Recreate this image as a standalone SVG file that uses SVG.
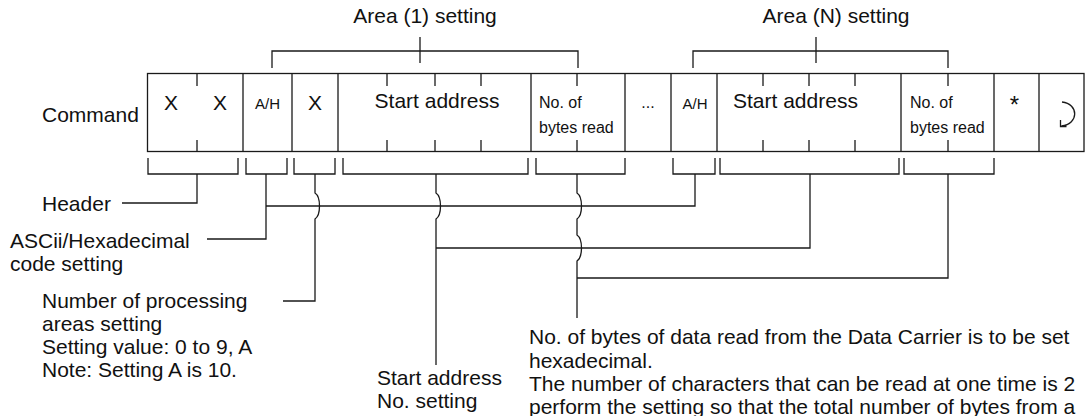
<svg xmlns="http://www.w3.org/2000/svg" width="1085" height="416" viewBox="0 0 1085 416">
<style>
  text { font-family: "Liberation Sans", Arial, Helvetica, sans-serif; fill: #111; }
  .big { font-size: 21px; }
  .mid { font-size: 16px; }
  .sm { font-size: 15px; }
  .c { text-anchor: middle; }
  .ln { fill: none; stroke: #1a1a1a; stroke-width: 1.3; }
</style>
<rect width="1085" height="416" fill="#fff"/>

<g id="area1-label">
  <text class="big c" x="425" y="23">Area (1) setting</text>
  <path class="ln" d="M272,68 V51 H578 V68 M420,37 V63"/>
</g>
<g id="areaN-label">
  <text class="big c" x="836" y="23">Area (N) setting</text>
  <path class="ln" d="M693,68 V51 H948 V68 M816,37 V63"/>
</g>

<g id="command-label">
  <text class="big" x="42" y="122">Command</text>
</g>

<g id="frame">
  <rect class="ln" x="147.5" y="73.5" width="936.5" height="78"/>
  <path class="ln" d="M243,73.5 V151.5 M292,73.5 V151.5 M338,73.5 V151.5 M531,73.5 V151.5 M625,73.5 V151.5 M671,73.5 V151.5 M717,73.5 V151.5 M901,73.5 V151.5 M994,73.5 V151.5 M1039,73.5 V151.5"/>
  <path class="ln" d="M197,73.5 V86 M197,140 V151.5 M387,73.5 V86 M387,140 V151.5 M435,73.5 V86 M435,140 V151.5 M481,73.5 V86 M481,140 V151.5 M577,73.5 V86 M577,140 V151.5 M763,73.5 V86 M763,140 V151.5 M809,73.5 V86 M809,140 V151.5 M855,73.5 V86 M855,140 V151.5 M948,73.5 V86 M948,140 V151.5"/>
</g>

<g id="cell-header">
  <text class="big c" x="171" y="110">X</text>
  <text class="big c" x="220" y="110">X</text>
</g>
<g id="cell-ah1"><text class="sm c" x="267.5" y="109">A/H</text></g>
<g id="cell-x"><text class="big c" x="315" y="110">X</text></g>
<g id="cell-start1"><text class="big c" x="437" y="108">Start address</text></g>
<g id="cell-bytes1">
  <text class="mid" x="539" y="108">No. of</text>
  <text class="mid" x="539" y="133">bytes read</text>
</g>
<g id="cell-dots"><text class="mid c" x="648" y="108">...</text></g>
<g id="cell-ahN"><text class="sm c" x="695" y="109">A/H</text></g>
<g id="cell-startN"><text class="big" x="733" y="108">Start address</text></g>
<g id="cell-bytesN">
  <text class="mid" x="910" y="108">No. of</text>
  <text class="mid" x="910" y="133">bytes read</text>
</g>
<g id="cell-star"><text class="c" x="1014.5" y="113" style="font-size:24px">*</text></g>
<g id="cell-cr">
  <path class="ln" d="M1062,102 C1079,104 1079,124 1061.5,126 M1060.5,120 L1060.5,126.5 L1066.5,126.5"/>
</g>

<g id="brackets">
  <path class="ln" d="M148,158 V174 H238 V158 M246,158 V174 H287 V158 M294,158 V174 H335 V158 M343,158 V174 H528 V158 M536,158 V174 H625 V158 M673,158 V174 H715 V158 M720,158 V174 H899 V158 M904,158 V174 H994 V158"/>
</g>

<g id="connectors">
  <path class="ln" d="M197,174 V203 H122"/>
  <path class="ln" d="M266,174 V239 H207"/>
  <path class="ln" d="M266,206 H695 V174"/>
  <path class="ln" d="M315,174 V193 C321,197 321,215 315,219 V301 H283"/>
  <path class="ln" d="M436,174 V193 C442,197 442,215 436,219 V365"/>
  <path class="ln" d="M436,248 H810 V174"/>
  <path class="ln" d="M577,174 V193 C583,197 583,215 577,219 V235 C583,239 583,257 577,261 V318"/>
  <path class="ln" d="M577,278 H948 V174"/>
</g>

<g id="label-header"><text class="big" x="42" y="211">Header</text></g>
<g id="label-ascii">
  <text class="big" x="10" y="248">ASCii/Hexadecimal</text>
  <text class="big" x="10" y="271">code setting</text>
</g>
<g id="label-areas">
  <text class="big" x="42" y="308">Number of processing</text>
  <text class="big" x="42" y="331">areas setting</text>
  <text class="big" x="42" y="354">Setting value: 0 to 9, A</text>
  <text class="big" x="42" y="377">Note: Setting A is 10.</text>
</g>
<g id="label-start">
  <text class="big" x="377" y="385">Start address</text>
  <text class="big" x="377" y="408">No. setting</text>
</g>
<g id="label-bytes">
  <text class="big" x="529" y="344">No. of bytes of data read from the Data Carrier is to be set</text>
  <text class="big" x="529" y="368">hexadecimal.</text>
  <text class="big" x="529" y="391">The number of characters that can be read at one time is 2</text>
  <text class="big" x="529" y="414">perform the setting so that the total number of bytes from a</text>
</g>
</svg>
